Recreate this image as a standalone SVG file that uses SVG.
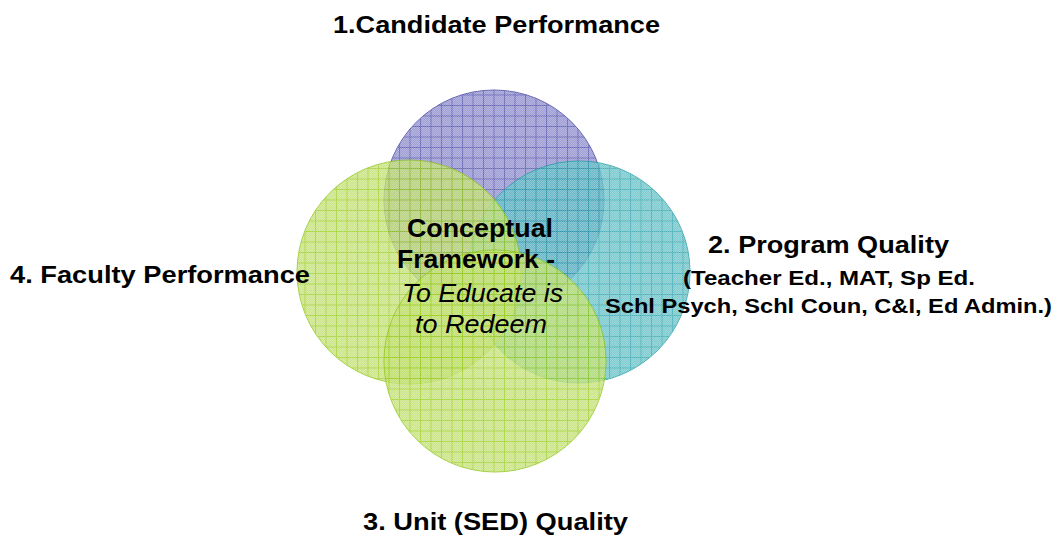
<svg xmlns="http://www.w3.org/2000/svg" width="1058" height="537" viewBox="0 0 1058 537">
<defs>
<pattern id="chk" width="2" height="2" patternUnits="userSpaceOnUse">
<rect x="0" y="0" width="1" height="1" fill="#ffffff" fill-opacity="0.2"/>
<rect x="1" y="1" width="1" height="1" fill="#ffffff" fill-opacity="0.2"/>
</pattern>
<pattern id="pBlue" width="10.5" height="10.5" patternUnits="userSpaceOnUse">
<rect width="10.5" height="10.5" fill="#8a8acc"/>
<path d="M0 0.5H10.5M0.5 0V10.5" stroke="#4444a4" stroke-width="1"/>
</pattern>
<pattern id="pTeal" width="10.5" height="10.5" patternUnits="userSpaceOnUse">
<rect width="10.5" height="10.5" fill="#62c0c6"/>
<path d="M0 0.5H10.5M0.5 0V10.5" stroke="#229fa8" stroke-width="1"/>
</pattern>
<pattern id="pGreen" width="10.5" height="10.5" patternUnits="userSpaceOnUse">
<rect width="10.5" height="10.5" fill="#c2e070"/>
<path d="M0 0.5H10.5M0.5 0V10.5" stroke="#94ca14" stroke-width="1"/>
</pattern>
<style>
.lbl{font-family:"Liberation Sans",Arial,sans-serif;font-weight:bold;fill:#000;}
.it{font-family:"Liberation Sans",Arial,sans-serif;font-style:italic;fill:#000;}
.c{opacity:0.8;}
</style>
</defs>
<rect width="1058" height="537" fill="#ffffff"/>
<g id="circle-candidate" class="c">
<circle cx="494" cy="200" r="110" fill="url(#pBlue)" stroke="#3c3ca0" stroke-width="1"/>
<circle cx="494" cy="200" r="110" fill="url(#chk)"/>
</g>
<g id="circle-program" class="c">
<circle cx="579" cy="272" r="111" fill="url(#pTeal)" stroke="#1a9aa2" stroke-width="1"/>
<circle cx="579" cy="272" r="111" fill="url(#chk)"/>
</g>
<g id="circle-faculty" class="c">
<circle cx="409" cy="272" r="112" fill="url(#pGreen)" stroke="#8cc410" stroke-width="1"/>
<circle cx="409" cy="272" r="112" fill="url(#chk)"/>
</g>
<g id="circle-unit" class="c">
<circle cx="495" cy="361" r="111" fill="url(#pGreen)" stroke="#8cc410" stroke-width="1"/>
<circle cx="495" cy="361" r="111" fill="url(#chk)"/>
</g>
<g id="connectors"></g>
<g id="label-candidate"><text class="lbl" x="333" y="33" font-size="24" textLength="327" lengthAdjust="spacingAndGlyphs">1.Candidate Performance</text></g>
<g id="label-program">
<text class="lbl" x="708" y="253" font-size="24" textLength="241" lengthAdjust="spacingAndGlyphs">2. Program Quality</text>
<text class="lbl" x="683" y="285" font-size="20" textLength="292" lengthAdjust="spacingAndGlyphs">(Teacher Ed., MAT, Sp Ed.</text>
<text class="lbl" x="605" y="313" font-size="20" textLength="447" lengthAdjust="spacingAndGlyphs">Schl Psych, Schl Coun, C&amp;I, Ed Admin.)</text>
</g>
<g id="label-faculty"><text class="lbl" x="10" y="283" font-size="24" textLength="300" lengthAdjust="spacingAndGlyphs">4. Faculty Performance</text></g>
<g id="label-unit"><text class="lbl" x="363" y="530" font-size="24" textLength="265" lengthAdjust="spacingAndGlyphs">3. Unit (SED) Quality</text></g>
<g id="label-center">
<text class="lbl" x="407" y="237" font-size="25" textLength="146" lengthAdjust="spacingAndGlyphs">Conceptual</text>
<text class="lbl" x="397" y="268" font-size="25" textLength="158" lengthAdjust="spacingAndGlyphs">Framework -</text>
<text class="it" x="402" y="302" font-size="25" textLength="161" lengthAdjust="spacingAndGlyphs">To Educate is</text>
<text class="it" x="415" y="333" font-size="25" textLength="132" lengthAdjust="spacingAndGlyphs">to Redeem</text>
</g>
</svg>
